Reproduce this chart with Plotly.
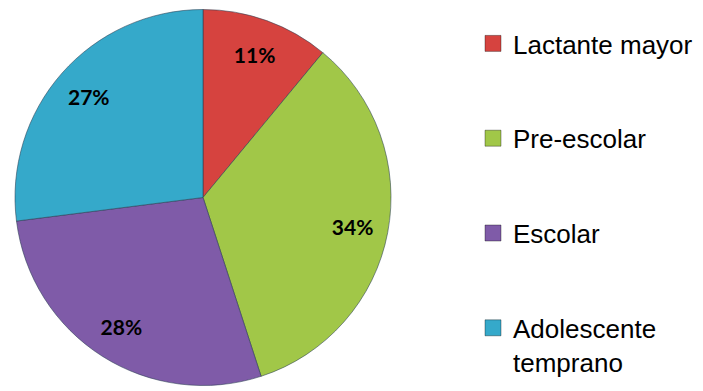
import plotly.graph_objects as go

# Age groups and their share of the sample
categories = ["Lactante mayor", "Pre-escolar", "Escolar", "Adolescente temprano"]
legend_labels = ["Lactante mayor", "Pre-escolar", "Escolar", "Adolescente<br>temprano"]
shares = [11, 34, 28, 27]
colors = ["#D6433F", "#A1C748", "#7F5BA8", "#35A9CA"]

W, H = 703, 391
pie_domain = dict(x=[15 / W, 391 / W], y=[5 / H, 382 / H])

fig = go.Figure()

# Filled wedges
fig.add_trace(go.Pie(
    labels=categories,
    values=shares,
    sort=False,
    direction="clockwise",
    rotation=0,
    marker=dict(colors=colors, line=dict(color="rgba(40,60,80,0.55)", width=1)),
    textinfo="none",
    showlegend=False,
    hoverinfo="label+percent",
    domain=pie_domain,
))

# Transparent ring on top that carries the percentage labels near the rim
fig.add_trace(go.Pie(
    labels=categories,
    values=shares,
    sort=False,
    direction="clockwise",
    rotation=0,
    hole=0.62,
    marker=dict(colors=["rgba(0,0,0,0)"] * len(shares), line=dict(width=0)),
    texttemplate="%{percent:.0%}",
    textposition="inside",
    insidetextorientation="horizontal",
    textfont=dict(family="Lato", size=21, color="black", weight="bold"),
    showlegend=False,
    hoverinfo="skip",
    domain=pie_domain,
))

# Legend entries: one square swatch per age group
for name, col in zip(legend_labels, colors):
    fig.add_trace(go.Scatter(
        x=[None], y=[None], mode="markers", name=name, legendgroup=name,
        marker=dict(symbol="square", size=16, color=col,
                    line=dict(color="rgba(0,0,0,0.35)", width=1)),
    ))

fig.update_layout(
    width=W, height=H,
    margin=dict(l=0, r=0, t=0, b=0),
    paper_bgcolor="white",
    plot_bgcolor="white",
    xaxis=dict(visible=False),
    yaxis=dict(visible=False),
    legend=dict(
        x=473 / W, y=1 - 20 / H, xanchor="left", yanchor="top",
        font=dict(family="Liberation Sans", size=26, color="black"),
        tracegroupgap=58, valign="top",
        bgcolor="rgba(0,0,0,0)",
    ),
)

fig.write_html("out.html")
